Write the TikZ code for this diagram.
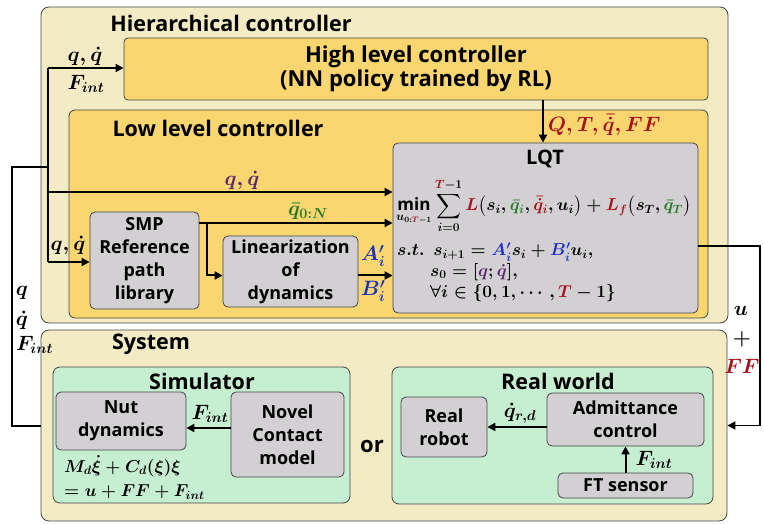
\documentclass[tikz,border=0pt]{standalone}
\usepackage{amsmath,bm}
\usepackage{fontspec}
\setmainfont{Open Sans}
\usetikzlibrary{calc,arrows.meta}
\definecolor{outerc}{RGB}{243,235,196}
\definecolor{yelc}{RGB}{249,214,112}
\definecolor{greyc}{RGB}{210,208,210}
\definecolor{greenc}{RGB}{198,238,208}
\definecolor{bordc}{RGB}{70,70,70}
\definecolor{dred}{RGB}{165,20,30}
\definecolor{dgreen}{RGB}{40,120,40}
\definecolor{dblue}{RGB}{30,50,190}
\definecolor{dpurp}{RGB}{90,40,110}
\begin{document}
\begin{tikzpicture}[x=1pt,y=-1pt,
  cont/.style={draw=bordc, line width=0.8pt, rounded corners=8pt, inner sep=0pt},
  box/.style={draw=bordc, line width=0.8pt, rounded corners=5pt, inner sep=0pt, align=center, fill=greyc, font=\bfseries\fontsize{18}{23}\selectfont},
  ttl/.style={font=\bfseries\fontsize{21.5}{24}\selectfont, inner sep=0pt},
  conn/.style={line width=2pt, -{Triangle[length=8pt,width=8pt]}},
  wire/.style={line width=2pt},
  mlab/.style={font=\boldmath\fontsize{17}{20}\selectfont, inner sep=0pt},
  blab/.style={font=\boldmath\fontsize{21.5}{22}\selectfont, inner sep=0pt}]
\useasboundingbox (0,0) rectangle (764,524);
% containers
\node[cont, fill=outerc, minimum width=687pt, minimum height=316pt] (hier) at (384.5,165) {};
\node[cont, fill=yelc, rounded corners=4pt, minimum width=584pt, minimum height=62pt, align=center, font=\bfseries\fontsize{22}{24}\selectfont] (hlc) at (416,69) {High level controller\\(NN policy trained by RL)};
\node[cont, fill=yelc, rounded corners=6pt, minimum width=639pt, minimum height=208pt] (llc) at (388.5,214) {};
\node[cont, fill=outerc, minimum width=686pt, minimum height=191pt] (sys) at (384,425.5) {};
\node[cont, fill=greenc, rounded corners=7pt, minimum width=297pt, minimum height=136pt] (sim) at (201.5,435) {};
\node[cont, fill=greenc, rounded corners=7pt, minimum width=321pt, minimum height=137pt] (real) at (552.5,435.5) {};
% titles
\node[ttl] (thier) at (231,23) {Hierarchical controller};
\node[ttl] (tllc) at (218,128) {Low level controller};
\node[ttl] (tsys) at (151,344) {System};
\node[ttl] (tsim) at (202,381) {Simulator};
\node[ttl] (treal) at (558,381) {Real world};
\node[ttl, font=\bfseries\fontsize{22}{24}\selectfont] (tor) at (372,446) {or};
% boxes
\node[box, minimum width=109pt, minimum height=97pt] (smp) at (144.5,260.5) {SMP\\Reference\\path\\library};
\node[box, minimum width=135pt, minimum height=71pt] (lin) at (290.5,271.5) {Linearization\\of\\dynamics};
\node[box, minimum width=305pt, minimum height=170pt] (lqt) at (545.5,228) {};
\node[box, minimum width=130pt, minimum height=58pt] (nut) at (121,421) {Nut\\dynamics};
\node[box, minimum width=113pt, minimum height=85pt] (nov) at (287.5,434.5) {Novel\\Contact\\model};
\node[box, minimum width=86pt, minimum height=60pt] (rob) at (444,427) {Real\\robot};
\node[box, minimum width=157pt, minimum height=53pt] (adm) at (625.5,419.5) {Admittance\\control};
\node[box, minimum width=135pt, minimum height=25pt] (ft) at (625.5,485.5) {FT sensor};
% LQT content
\node[font=\bfseries\fontsize{20}{22}\selectfont, inner sep=0pt] (lqtt) at (545,159) {LQT};
\node[mlab, anchor=west] (lqtmin) at (396,206) {$\displaystyle\min_{u_{0:{\color{dred}T}-1}}\sum_{i=0}^{{\color{dred}T}-1}{\color{dred}L}\bigl(s_i,{\color{dgreen}\bar q_i},{\color{dred}\bar{\dot q}_i},u_i\bigr)+{\color{dred}L_f}\bigl(s_T,{\color{dgreen}\bar q_T}\bigr)$};
\node[mlab, anchor=west] (lqt1) at (397,252) {$s.t.\ \ s_{i+1}={\color{dblue}A'_i}s_i+{\color{dblue}B'_i}u_i,$};
\node[mlab, anchor=west] (lqt2) at (430,272) {$s_0=[{\color{dpurp}q};{\color{dpurp}\dot q}],$};
\node[mlab, anchor=west] (lqt3) at (430,293) {$\forall i\in\{0,1,\cdots,{\color{dred}T}-1\}$};
% connectors
\coordinate (jfb) at (48,167);
\coordinate (jtop) at (48,68);
\coordinate (jbot) at (48,262);
\coordinate (jq) at (48,192);
\draw[wire] (sys.west) -- ++(-29,0) |- (jfb);
\draw[wire] (jtop) -- (jbot);
\draw[conn] (jtop) -- (jtop -| hlc.west);
\draw[conn] (jq) -- (jq -| lqt.west);
\draw[conn] (jbot) -- (jbot -| smp.west);
\coordinate (sq) at (199,223);
\coordinate (br) at (207,223);
\draw[conn] (sq) -- (sq -| lqt.west);
\draw[conn] (br) |- ([yshift=-4pt]lin.west);
\draw[conn] ([yshift=-4pt]lin.east) -- ([yshift=-4pt]lin.east -| lqt.west);
\coordinate (hx) at (543,100);
\draw[conn] (hx) -- (hx |- lqt.north);
\coordinate (uo) at (698,246);
\coordinate (ur) at (760,246);
\draw[conn, line width=1.8pt] (uo) -- (ur) |- (sys.east);
\coordinate (cn) at (0,428);
\draw[conn] (nov.west |- cn) -- (nut.east |- cn);
\coordinate (ca) at (0,427);
\draw[conn] (adm.west |- ca) -- (rob.east |- ca);
\draw[conn] (ft.north) -- (adm.south);
% labels
\node[blab] (l1) at (85,56) {$q,\dot q$};
\node[blab] (l2) at (86,84) {$F_{int}$};
\node[blab] (l3) at (242,180) {${\color{dpurp}q,\dot q}$};
\node[blab, font=\boldmath\fontsize{21}{22}\selectfont] (l4) at (308,211) {${\color{dgreen}\bar q_{0:N}}$};
\node[blab] (l5) at (68,245) {$q,\dot q$};
\node[blab, font=\boldmath\fontsize{21}{22}\selectfont] (l6) at (373,256) {${\color{dblue}A'_i}$};
\node[blab, font=\boldmath\fontsize{21}{22}\selectfont] (l7) at (373,291) {${\color{dblue}B'_i}$};
\node[blab, font=\boldmath\fontsize{20}{22}\selectfont, anchor=west] (l8) at (548,125) {${\color{dred}Q,T,\bar{\dot q},FF}$};
\node[blab, font=\boldmath\fontsize{21}{22}\selectfont] (l9) at (741,311) {$u$};
\node[blab, font=\boldmath\fontsize{21}{22}\selectfont] (l10) at (742,339) {$+$};
\node[blab, font=\boldmath\fontsize{21}{22}\selectfont] (l11) at (742,366) {${\color{dred}FF}$};
\node[blab] (l12) at (22,293) {$q$};
\node[blab] (l13) at (22,320) {$\dot q$};
\node[blab, anchor=west] (l14) at (16,345) {$F_{int}$};
\node[blab] (l15) at (210,414) {$F_{int}$};
\node[blab] (l16) at (520,413) {$\dot q_{r,d}$};
\node[blab] (l17) at (654,460) {$F_{int}$};
\node[mlab, anchor=west] (l18) at (64,466) {$M_d\dot\xi+C_d(\xi)\xi$};
\node[mlab, anchor=west] (l19) at (64,492) {$=u+FF+F_{int}$};
\end{tikzpicture}
\end{document}
